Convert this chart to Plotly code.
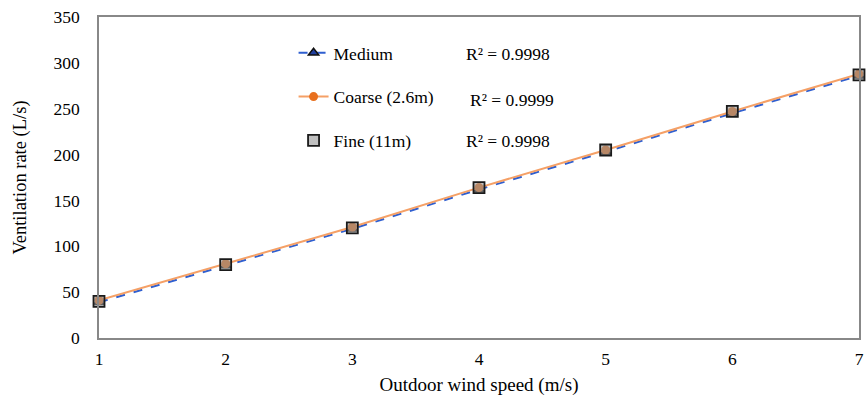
import plotly.graph_objects as go

wind_speed = [1, 2, 3, 4, 5, 6, 7]
medium = [39, 79, 119, 162, 203, 245, 286]
coarse = [41, 81, 121, 164, 205, 247, 288]
fine = [40, 80, 120, 164, 205, 247, 287]
r2_labels = ["R² = 0.9998", "R² = 0.9999", "R² = 0.9998"]

FONT = "Liberation Serif, Times New Roman, serif"
FS = 17.5

fig = go.Figure()
fig.add_trace(go.Scatter(
    x=wind_speed, y=medium, name="Medium", mode="lines+markers",
    line=dict(color="#2f5fd0", width=2, dash="dash"),
    marker=dict(symbol="triangle-up", size=9, color="#1f3f9f", line=dict(color="#111", width=1.5)),
    legendgroup="m", cliponaxis=False))
fig.add_trace(go.Scatter(
    x=wind_speed, y=coarse, name="Coarse (2.6m)", mode="lines+markers",
    line=dict(color="#f5a066", width=2),
    marker=dict(symbol="circle", size=9, color="#e8701e"),
    legendgroup="c", cliponaxis=False))
fig.add_trace(go.Scatter(
    x=wind_speed, y=fine, name="Fine (11m)", mode="markers",
    marker=dict(symbol="square", size=11, color="rgba(150,150,150,0.6)", line=dict(color="#1a1a1a", width=1.8)),
    legendgroup="f", cliponaxis=False))

ys = [0.885, 0.741, 0.614]
xs = [0.480, 0.486, 0.480]
for lbl, xx, yy in zip(r2_labels, xs, ys):
    fig.add_annotation(text=lbl, xref="paper", yref="paper", x=xx, y=yy,
                       xanchor="left", yanchor="middle", showarrow=False,
                       font=dict(family=FONT, size=FS, color="#000"))

fig.update_layout(
    width=866, height=402,
    margin=dict(l=99, r=2, t=17, b=64),
    paper_bgcolor="white", plot_bgcolor="white",
    font=dict(family=FONT, size=FS, color="#000"),
    showlegend=True,
    legend=dict(x=0.256, y=0.944, xanchor="left", yanchor="top",
                bgcolor="rgba(0,0,0,0)", tracegroupgap=18,
                font=dict(family=FONT, size=FS, color="#000")),
    xaxis=dict(range=[1, 7], dtick=1, showgrid=False, zeroline=False,
               showline=True, linecolor="#888", linewidth=1.5, mirror=True,
               ticks="", ticklabeloverflow="allow", ticklabelstandoff=4,
               tickfont=dict(family=FONT, size=FS, color="#000"),
               title=dict(text="Outdoor wind speed (m/s)", standoff=10,
                          font=dict(family=FONT, size=19, color="#000"))),
    yaxis=dict(range=[0, 350], dtick=50, showgrid=False, zeroline=False,
               showline=True, linecolor="#888", linewidth=1.5, mirror=True,
               ticks="", ticklabelstandoff=14,
               tickfont=dict(family=FONT, size=FS, color="#000"),
               title=dict(text="Ventilation rate (L/s)", standoff=22,
                          font=dict(family=FONT, size=18.5, color="#000"))),
)

fig.write_html("out.html")
